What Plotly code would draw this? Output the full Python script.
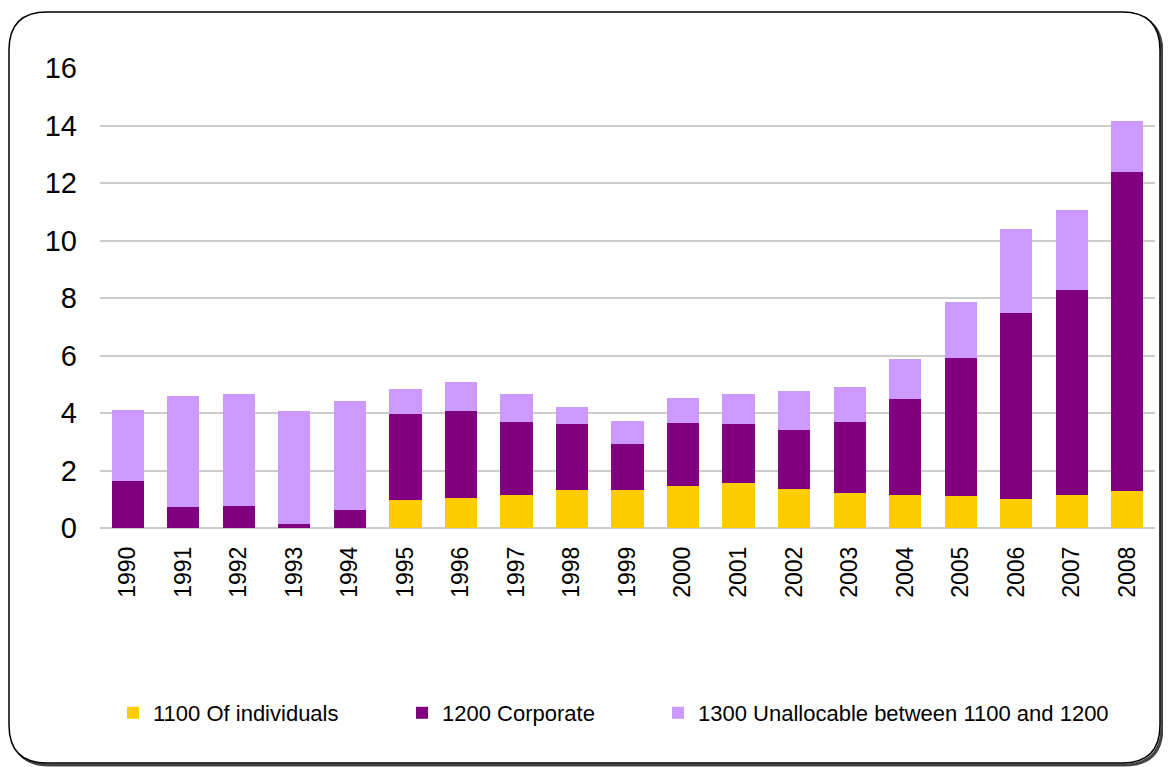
import plotly.graph_objects as go

years = [str(y) for y in range(1990, 2009)]
individuals = [0, 0, 0, 0, 0, 0.97, 1.04, 1.15, 1.32, 1.32, 1.46, 1.57, 1.36, 1.22, 1.15, 1.11, 1.01, 1.15, 1.29]
corporate = [1.63, 0.73, 0.77, 0.14, 0.63, 3.00, 3.03, 2.54, 2.30, 1.60, 2.19, 2.05, 2.05, 2.47, 3.34, 4.81, 6.47, 7.13, 11.09]
unallocable = [2.47, 3.86, 3.89, 3.93, 3.79, 0.86, 1.01, 0.97, 0.59, 0.80, 0.87, 1.04, 1.36, 1.21, 1.39, 1.94, 2.92, 2.78, 1.77]
names = ["1100 Of individuals", "1200 Corporate", "1300 Unallocable between 1100 and 1200"]
colors = ["#FFCC00", "#800080", "#CC99FF"]
y_ticks = [0, 2, 4, 6, 8, 10, 12, 14, 16]

OFF = 8  # page body margin
SW, SH = 1171, 767  # screen size
W, H = SW - 2 * OFF, SH - OFF
PL, PR, PT, PB = 100, 1155, 68, 528  # plot area in screen pixels
L, R, T, B = PL - OFF, W - (PR - OFF), PT - OFF, H - (PB - OFF)
pw, ph = PR - PL, PB - PT

def px(x):
    return (x - PL) / pw

def py(y):
    return (PB - y) / ph

fig = go.Figure()
legends = ["legend", "legend2", "legend3"]
for vals, name, col, lg in zip([individuals, corporate, unallocable], names, colors, legends):
    fig.add_trace(go.Bar(x=years, y=vals, name=name, marker=dict(color=col, line=dict(width=0)),
                         legend=lg, showlegend=True))

def rounded(x0, y0, x1, y1, r):
    return (f"M {px(x0+r)},{py(y0)} L {px(x1-r)},{py(y0)} Q {px(x1)},{py(y0)} {px(x1)},{py(y0+r)} "
            f"L {px(x1)},{py(y1-r)} Q {px(x1)},{py(y1)} {px(x1-r)},{py(y1)} "
            f"L {px(x0+r)},{py(y1)} Q {px(x0)},{py(y1)} {px(x0)},{py(y1-r)} "
            f"L {px(x0)},{py(y0+r)} Q {px(x0)},{py(y0)} {px(x0+r)},{py(y0)} Z")

shapes = [
    dict(type="path", xref="paper", yref="paper", path=rounded(12, 15, 1162, 765, 38),
         line=dict(color="#444444", width=3), layer="below"),
    dict(type="path", xref="paper", yref="paper", path=rounded(9, 12, 1160, 763, 38),
         line=dict(color="#000000", width=1.5), fillcolor="white", layer="below"),
]

legend_common = dict(orientation="h", yanchor="middle", y=py(713),
                     font=dict(family="Liberation Sans", size=22, color="#000"),
                     bgcolor="rgba(0,0,0,0)", itemwidth=30, tracegroupgap=0)

fig.update_layout(
    width=W, height=H,
    margin=dict(l=L, r=R, t=T, b=B),
    barmode="stack", bargap=0.42,
    paper_bgcolor="white", plot_bgcolor="white",
    font=dict(family="Liberation Sans", color="#000"),
    shapes=shapes,
    showlegend=True,
    legend=dict(**legend_common, x=px(113)),
    legend2=dict(**legend_common, x=px(402)),
    legend3=dict(**legend_common, x=px(658)),
    xaxis=dict(tickangle=-90, tickfont=dict(size=23), showline=False, ticks="", ticklabelstandoff=13),
    yaxis=dict(range=[0, 16], tickvals=y_ticks, tickfont=dict(size=29), showgrid=True, gridcolor="#CCCCCC",
               gridwidth=1.5, zeroline=True, zerolinecolor="#CCCCCC", zerolinewidth=2, ticks="",
               ticklabelstandoff=22),
)

fig.write_html("out.html")
